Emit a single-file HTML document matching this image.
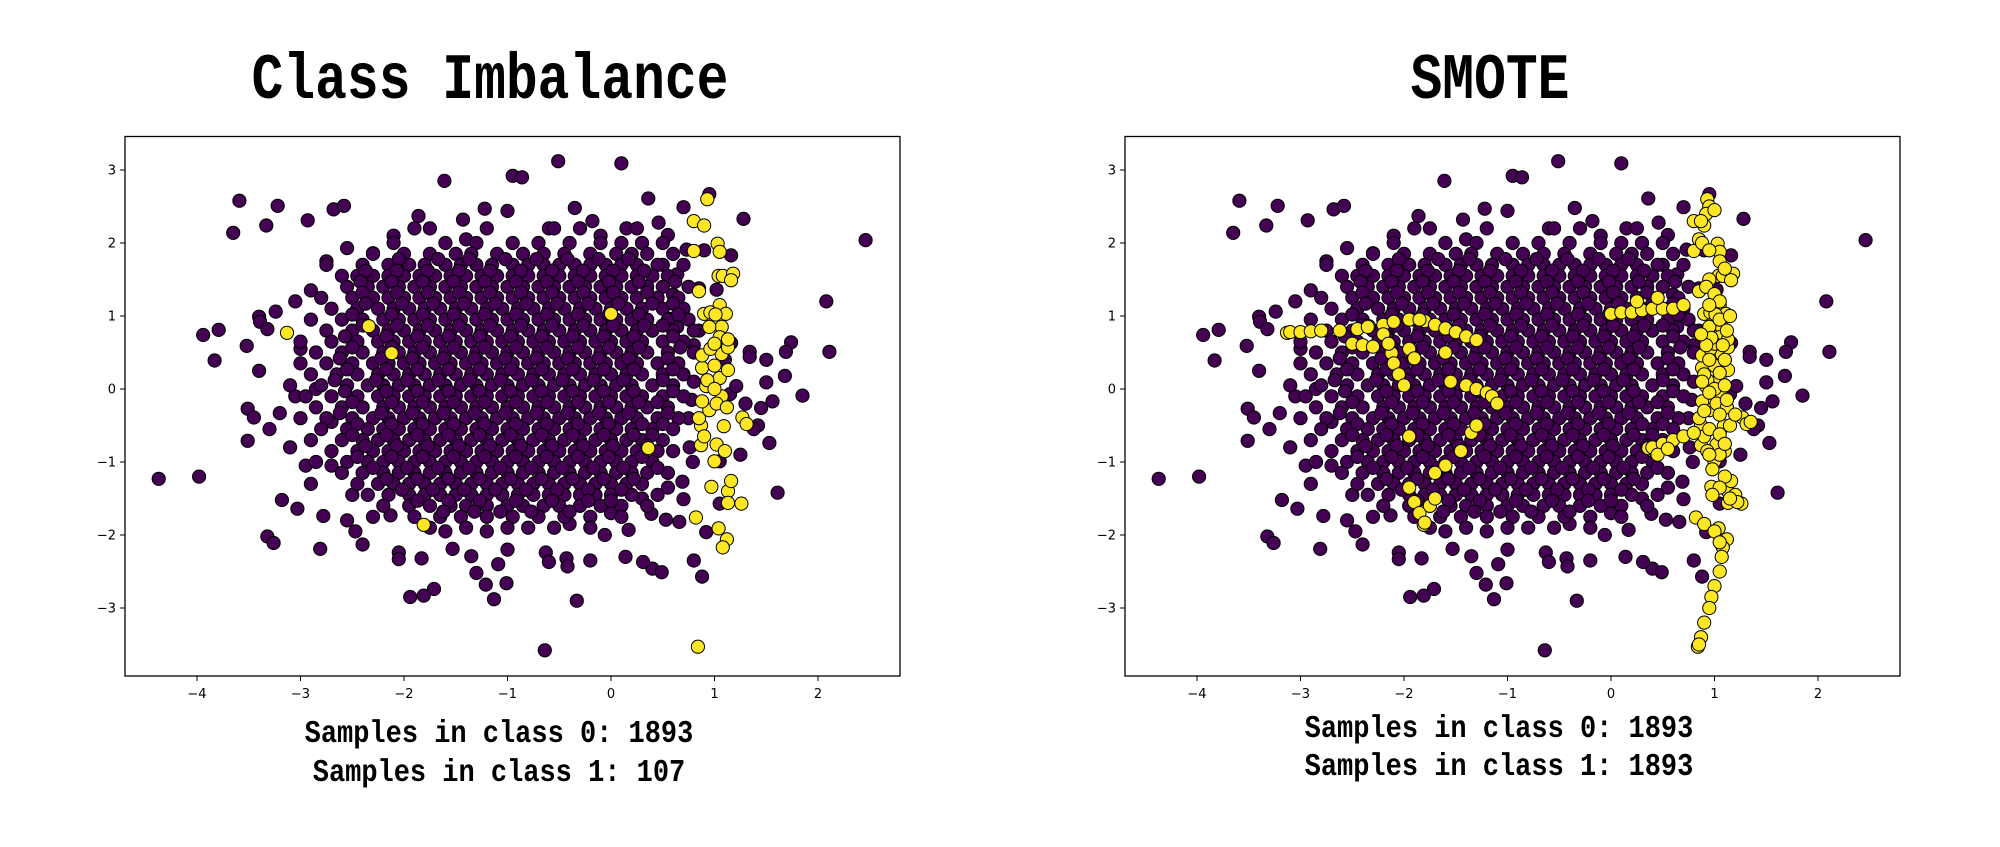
<!DOCTYPE html>
<html><head><meta charset="utf-8">
<style>
html,body{margin:0;padding:0;background:#fff;}
body{width:2000px;height:842px;overflow:hidden;}
svg text{font-family:"DejaVu Sans","Liberation Sans",sans-serif;}
.title{font-family:"Liberation Mono",monospace;font-weight:bold;font-size:53px;}
.sub{font-family:"Liberation Mono",monospace;font-weight:bold;font-size:27px;}
.tick{font-size:13px;fill:#000;}
</style></head>
<body>
<svg id="chart" width="2000" height="842" viewBox="0 0 2000 842" xmlns="http://www.w3.org/2000/svg">
  <g><text class="title" x="490" y="98" text-anchor="middle" transform="translate(0,98) scale(1,1.23) translate(0,-98)">Class Imbalance</text></g>
  <g><text class="title" x="1490" y="98" text-anchor="middle" transform="translate(0,98) scale(1,1.23) translate(0,-98)">SMOTE</text></g>
  <g id="panelL"></g>
  <g id="panelR"></g>
  <g>
    <text class="sub" x="499" y="742" text-anchor="middle" transform="translate(0,742) scale(1,1.18) translate(0,-742)">Samples in class 0: 1893</text>
    <text class="sub" x="499" y="781" text-anchor="middle" transform="translate(0,781) scale(1,1.18) translate(0,-781)">Samples in class 1: 107</text>
  </g>
  <g>
    <text class="sub" x="1499" y="737" text-anchor="middle" transform="translate(0,737) scale(1,1.18) translate(0,-737)">Samples in class 0: 1893</text>
    <text class="sub" x="1499" y="775" text-anchor="middle" transform="translate(0,775) scale(1,1.18) translate(0,-775)">Samples in class 1: 1893</text>
  </g>
</svg>
<script>
const xTicks = [-4,-3,-2,-1,0,1,2];
const yTicks = [-3,-2,-1,0,1,2,3];

const class0Outliers = [[-4.37,-1.23],[-3.98,-1.2],[-3.94,0.74],[-3.79,0.81],[-3.83,0.39],[-3.65,2.14],[-3.59,2.58],[-3.33,2.24],[-3.22,2.51],[-2.93,2.31],[-2.68,2.46],[-2.58,2.51],[-3.52,0.59],[-3.4,0.99],[-3.39,0.92],[-3.24,1.06],[-3.32,0.82],[-3.4,0.25],[-3.51,-0.27],[-3.45,-0.39],[-3.51,-0.71],[-3.2,-0.33],[-3.3,-0.55],[-3.18,-1.52],[-3.03,-1.64],[-3.32,-2.02],[-3.26,-2.11],[-2.9,-1.3],[-2.78,-1.74],[-2.81,-2.19],[-2.55,-1.8],[-2.4,-2.13],[-2.47,-1.95],[-2.55,1.93],[-2.3,1.86],[-1.61,2.85],[-1.86,2.37],[-1.43,2.32],[-1.22,2.47],[-1.0,2.44],[-0.95,2.92],[-0.86,2.9],[-0.51,3.12],[0.1,3.09],[-0.35,2.48],[-0.18,2.3],[0.36,2.61],[0.7,2.49],[0.46,2.28],[0.55,2.11],[0.95,2.67],[1.28,2.33],[2.46,2.04],[2.08,1.2],[2.11,0.51],[1.74,0.64],[1.69,0.51],[1.5,0.4],[1.34,0.51],[1.34,0.44],[1.85,-0.09],[1.68,0.18],[1.5,0.09],[1.56,-0.17],[1.45,-0.26],[1.42,-0.5],[1.38,-0.55],[1.53,-0.74],[1.61,-1.42],[1.16,1.83],[0.8,-2.35],[0.88,-2.57],[0.92,-1.96],[0.4,-2.46],[0.49,-2.51],[0.14,-2.3],[0.31,-2.37],[0.17,-1.93],[-0.06,-2.0],[-0.2,-2.35],[-0.33,-2.9],[-0.64,-3.58],[-0.63,-2.24],[-0.6,-2.37],[-0.43,-2.32],[-0.42,-2.43],[-1.01,-2.66],[-1.09,-2.4],[-1.13,-2.88],[-1.21,-2.68],[-1.3,-2.52],[-1.35,-2.29],[-1.71,-2.74],[-1.81,-2.83],[-1.94,-2.85],[-1.83,-2.32],[-2.05,-2.24],[-2.05,-2.33],[-2.13,-1.73],[-1.53,-2.19],[0.66,-1.82],[0.53,-1.79],[0.39,-1.71],[0.69,-1.27],[0.7,-1.51],[0.79,-1.0],[0.58,0.96],[0.6,1.29],[0.64,1.57],[0.85,1.38],[0.73,1.91],[1.02,1.36],[1.15,-0.07],[1.21,0.04],[1.1,0.4],[1.16,0.63],[1.05,-0.99],[1.05,-1.57],[0.64,0.85],[-3.0,0.55],[-3.05,-0.1],[-3.1,-0.8],[-2.95,-1.05],[-2.85,0.0],[-2.9,1.35],[-3.05,1.2],[-2.75,1.75],[-2.7,-0.45],[-2.7,-1.05],[-2.5,-1.45],[-2.3,-1.75],[-1.6,-1.95],[-1.2,-1.95],[-0.8,-1.9],[-0.4,-1.85],[0.0,-1.7],[0.3,-1.5],[0.55,-1.35],[0.8,0.6],[0.8,0.1],[0.75,-0.4],[1.3,-0.2],[1.25,-0.9],[-1.0,-2.2],[-0.1,2.1],[-0.6,2.2],[-1.4,2.05],[-2.1,2.1],[0.3,2.0],[0.5,1.7],[0.9,1.9],[0.85,0.8],[0.78,-0.15],[0.76,-0.8]];

const coreRows = [
 [2.2,[-1.9,-1.75,-1.2,-0.55,-0.3,0.15,0.25]],
 [2.0,[-2.1,-1.6,-1.3,-0.95,-0.7,-0.4,-0.1,0.1,0.3,0.5]],
 [1.85,[-2.3,-2.0,-1.75,-1.5,-1.35,-1.1,-0.85,-0.65,-0.45,-0.2,0.05,0.2,0.35,0.6]],
 [1.7,[-2.75,-2.4,-2.15,-1.95,-1.8,-1.6,-1.45,-1.3,-1.15,-0.95,-0.8,-0.65,-0.5,-0.35,-0.2,-0.05,0.1,0.25,0.45,0.7]],
 [1.55,[-2.6,-2.45,-2.3,-2.15,-2.0,-1.85,-1.7,-1.55,-1.4,-1.25,-1.1,-0.95,-0.8,-0.65,-0.5,-0.35,-0.2,-0.05,0.1,0.25,0.4,0.55]],
 [1.4,[-2.55,-2.35,-2.2,-2.05,-1.9,-1.75,-1.6,-1.45,-1.3,-1.15,-1.0,-0.85,-0.7,-0.55,-0.4,-0.25,-0.1,0.05,0.2,0.35,0.5,0.75]],
 [1.25,[-2.8,-2.5,-2.3,-2.15,-2.0,-1.85,-1.7,-1.55,-1.4,-1.25,-1.1,-0.95,-0.8,-0.65,-0.5,-0.35,-0.2,-0.05,0.1,0.25,0.45,0.65]],
 [1.1,[-2.7,-2.45,-2.25,-2.1,-1.95,-1.8,-1.65,-1.5,-1.35,-1.2,-1.05,-0.9,-0.75,-0.6,-0.45,-0.3,-0.15,0.0,0.15,0.3,0.5,0.7]],
 [0.95,[-2.9,-2.6,-2.4,-2.2,-2.05,-1.9,-1.75,-1.6,-1.45,-1.3,-1.15,-1.0,-0.85,-0.7,-0.55,-0.4,-0.25,-0.1,0.05,0.2,0.35,0.55,0.75]],
 [0.8,[-2.75,-2.5,-2.3,-2.15,-2.0,-1.85,-1.7,-1.55,-1.4,-1.25,-1.1,-0.95,-0.8,-0.65,-0.5,-0.35,-0.2,-0.05,0.1,0.25,0.4,0.6,0.8]],
 [0.65,[-3.0,-2.7,-2.45,-2.25,-2.1,-1.95,-1.8,-1.65,-1.5,-1.35,-1.2,-1.05,-0.9,-0.75,-0.6,-0.45,-0.3,-0.15,0.0,0.15,0.3,0.5,0.7]],
 [0.5,[-2.85,-2.6,-2.4,-2.2,-2.05,-1.9,-1.75,-1.6,-1.45,-1.3,-1.15,-1.0,-0.85,-0.7,-0.55,-0.4,-0.25,-0.1,0.05,0.2,0.35,0.55,0.8]],
 [0.35,[-3.0,-2.75,-2.5,-2.3,-2.15,-2.0,-1.85,-1.7,-1.55,-1.4,-1.25,-1.1,-0.95,-0.8,-0.65,-0.5,-0.35,-0.2,-0.05,0.1,0.25,0.45,0.65]],
 [0.2,[-2.9,-2.65,-2.45,-2.25,-2.1,-1.95,-1.8,-1.65,-1.5,-1.35,-1.2,-1.05,-0.9,-0.75,-0.6,-0.45,-0.3,-0.15,0.0,0.15,0.3,0.5,0.7]],
 [0.05,[-3.1,-2.8,-2.55,-2.35,-2.2,-2.05,-1.9,-1.75,-1.6,-1.45,-1.3,-1.15,-1.0,-0.85,-0.7,-0.55,-0.4,-0.25,-0.1,0.05,0.2,0.4,0.6]],
 [-0.1,[-2.95,-2.7,-2.45,-2.25,-2.1,-1.95,-1.8,-1.65,-1.5,-1.35,-1.2,-1.05,-0.9,-0.75,-0.6,-0.45,-0.3,-0.15,0.0,0.15,0.3,0.5,0.7]],
 [-0.25,[-2.85,-2.6,-2.4,-2.2,-2.05,-1.9,-1.75,-1.6,-1.45,-1.3,-1.15,-1.0,-0.85,-0.7,-0.55,-0.4,-0.25,-0.1,0.05,0.2,0.35,0.55]],
 [-0.4,[-3.0,-2.75,-2.5,-2.3,-2.15,-2.0,-1.85,-1.7,-1.55,-1.4,-1.25,-1.1,-0.95,-0.8,-0.65,-0.5,-0.35,-0.2,-0.05,0.1,0.25,0.45,0.65]],
 [-0.55,[-2.8,-2.55,-2.35,-2.2,-2.05,-1.9,-1.75,-1.6,-1.45,-1.3,-1.15,-1.0,-0.85,-0.7,-0.55,-0.4,-0.25,-0.1,0.05,0.2,0.4,0.6]],
 [-0.7,[-2.9,-2.6,-2.4,-2.25,-2.1,-1.95,-1.8,-1.65,-1.5,-1.35,-1.2,-1.05,-0.9,-0.75,-0.6,-0.45,-0.3,-0.15,0.0,0.15,0.3,0.5]],
 [-0.85,[-2.7,-2.45,-2.3,-2.15,-2.0,-1.85,-1.7,-1.55,-1.4,-1.25,-1.1,-0.95,-0.8,-0.65,-0.5,-0.35,-0.2,-0.05,0.1,0.25,0.45,0.6]],
 [-1.0,[-2.85,-2.55,-2.35,-2.2,-2.05,-1.9,-1.75,-1.6,-1.45,-1.3,-1.15,-1.0,-0.85,-0.7,-0.55,-0.4,-0.25,-0.1,0.05,0.2,0.4]],
 [-1.15,[-2.6,-2.4,-2.2,-2.05,-1.9,-1.75,-1.6,-1.45,-1.3,-1.15,-1.0,-0.85,-0.7,-0.55,-0.4,-0.25,-0.1,0.05,0.2,0.35,0.55]],
 [-1.3,[-2.45,-2.25,-2.1,-1.95,-1.8,-1.65,-1.5,-1.35,-1.2,-1.05,-0.9,-0.75,-0.6,-0.45,-0.3,-0.15,0.0,0.15,0.3]],
 [-1.45,[-2.35,-2.15,-1.95,-1.8,-1.65,-1.5,-1.35,-1.2,-1.05,-0.9,-0.75,-0.6,-0.45,-0.3,-0.15,0.0,0.2,0.45]],
 [-1.6,[-2.2,-1.95,-1.75,-1.55,-1.4,-1.2,-1.0,-0.85,-0.65,-0.5,-0.3,-0.1,0.1,0.35]],
 [-1.75,[-1.9,-1.65,-1.45,-1.2,-0.95,-0.7,-0.45,-0.2,0.1]],
 [-1.9,[-1.75,-1.4,-1.0,-0.55,-0.2]]
];

const coreRows2 = [
 [1.78,[-2.05,-1.67,-1.37,-1.02,-0.72,-0.42,-0.12,0.17]],
 [1.62,[-2.37,-2.07,-1.77,-1.47,-1.17,-0.87,-0.57,-0.27,0.02,0.32]],
 [1.47,[-2.42,-2.12,-1.82,-1.52,-1.22,-0.92,-0.62,-0.32,-0.02,0.27,0.62]],
 [1.32,[-2.4,-2.07,-1.77,-1.47,-1.17,-0.87,-0.57,-0.27,0.02,0.35]],
 [1.17,[-2.37,-2.02,-1.72,-1.42,-1.12,-0.82,-0.52,-0.22,0.07,0.4,0.6]],
 [1.02,[-2.5,-2.12,-1.82,-1.52,-1.22,-0.92,-0.62,-0.32,-0.02,0.27,0.65]],
 [0.87,[-2.4,-2.07,-1.77,-1.47,-1.17,-0.87,-0.57,-0.27,0.02,0.32,0.5]],
 [0.72,[-2.57,-2.17,-1.87,-1.57,-1.27,-0.97,-0.67,-0.37,-0.07,0.22,0.6]],
 [0.57,[-2.5,-2.12,-1.82,-1.52,-1.22,-0.92,-0.62,-0.32,-0.02,0.27,0.67]],
 [0.42,[-2.62,-2.22,-1.92,-1.62,-1.32,-1.02,-0.72,-0.42,-0.12,0.17,0.55]],
 [0.27,[-2.55,-2.17,-1.87,-1.57,-1.27,-0.97,-0.67,-0.37,-0.07,0.22,0.6]],
 [0.12,[-2.67,-2.27,-1.97,-1.67,-1.37,-1.07,-0.77,-0.47,-0.17,0.12,0.5]],
 [-0.03,[-2.57,-2.17,-1.87,-1.57,-1.27,-0.97,-0.67,-0.37,-0.07,0.22,0.6]],
 [-0.18,[-2.5,-2.12,-1.82,-1.52,-1.22,-0.92,-0.62,-0.32,-0.02,0.27,0.45]],
 [-0.33,[-2.62,-2.22,-1.92,-1.62,-1.32,-1.02,-0.72,-0.42,-0.12,0.17,0.55]],
 [-0.48,[-2.45,-2.12,-1.82,-1.52,-1.22,-0.92,-0.62,-0.32,-0.02,0.3,0.5]],
 [-0.63,[-2.5,-2.17,-1.87,-1.57,-1.27,-0.97,-0.67,-0.37,-0.07,0.22,0.4]],
 [-0.78,[-2.37,-2.07,-1.77,-1.47,-1.17,-0.87,-0.57,-0.27,0.02,0.35]],
 [-0.93,[-2.45,-2.12,-1.82,-1.52,-1.22,-0.92,-0.62,-0.32,-0.02,0.3]],
 [-1.08,[-2.3,-1.97,-1.67,-1.37,-1.07,-0.77,-0.47,-0.17,0.12,0.45]],
 [-1.23,[-2.17,-1.87,-1.57,-1.27,-0.97,-0.67,-0.37,-0.07,0.22]],
 [-1.38,[-2.02,-1.72,-1.42,-1.12,-0.82,-0.52,-0.22,0.1]],
 [-1.53,[-1.87,-1.57,-1.27,-0.92,-0.57,-0.22,0.0]],
 [-1.68,[-1.62,-1.32,-1.07,-0.77,-0.4]]
];

const class1Points = [[0.93,2.6],[0.8,2.3],[0.9,2.24],[0.8,1.89],[1.03,1.99],[1.05,1.88],[1.04,1.55],[1.08,1.55],[1.18,1.58],[1.16,1.49],[0.85,1.34],[1.05,1.15],[0.9,1.03],[0.96,1.05],[1.11,1.03],[1.01,1.02],[1.07,0.85],[0.0,1.03],[-2.34,0.86],[-3.13,0.77],[-2.12,0.49],[0.36,-0.81],[-1.81,-1.86],[0.84,-3.53],[0.82,-1.76],[1.04,-1.91],[1.12,-2.06],[1.08,-2.17],[0.97,-1.34],[1.13,-1.4],[1.16,-1.26],[1.13,-1.56],[1.26,-1.57],[1.0,-0.99],[0.87,-0.77],[1.02,-0.76],[0.87,-0.5],[1.09,-0.51],[1.27,-0.39],[1.31,-0.48],[0.85,-0.4],[0.95,-0.29],[0.88,-0.17],[1.07,-0.1],[0.92,0.04],[1.05,0.15],[1.13,0.26],[0.88,0.29],[1.0,0.32],[0.88,0.46],[1.07,0.48],[1.13,0.57],[0.96,0.55],[1.05,0.71],[1.13,0.68],[0.95,0.85],[1.0,0.62],[0.93,0.12],[1.02,-0.2],[0.9,-0.65],[1.1,-0.85],[1.0,0.0],[1.12,-0.25]];

const smotePoints = [[-3.1,0.78],[-3.0,0.78],[-2.9,0.79],[-2.8,0.8],[-2.62,0.8],[-2.45,0.82],[-2.35,0.85],[-2.2,0.88],[-2.1,0.92],[-1.95,0.95],[-1.8,0.93],[-1.7,0.88],[-1.6,0.83],[-1.5,0.78],[-1.4,0.72],[-1.3,0.67],[-2.5,0.62],[-2.4,0.6],[-2.3,0.58],[-2.2,0.75],[-2.15,0.62],[-2.1,0.35],[-2.05,0.2],[-1.95,0.55],[-1.9,0.42],[-2.0,0.05],[-1.85,0.95],[-1.55,0.1],[-1.4,0.05],[-1.3,0.0],[-1.2,-0.05],[-1.15,-0.1],[-1.1,-0.2],[-1.35,-0.6],[-1.3,-0.5],[-1.45,-0.85],[-1.6,-1.05],[-1.7,-1.15],[-1.95,-1.35],[-1.9,-1.55],[-1.85,-1.7],[-1.8,-1.83],[-1.75,-1.6],[-1.7,-1.5],[-1.95,-0.65],[-1.6,0.5],[0.1,1.05],[0.2,1.05],[0.3,1.08],[0.4,1.1],[0.5,1.1],[0.6,1.1],[0.7,1.15],[0.25,1.2],[0.45,1.25],[0.4,-0.8],[0.5,-0.75],[0.6,-0.7],[0.7,-0.65],[0.8,-0.6],[0.45,-0.9],[0.55,-0.82],[0.9,-1.85],[1.0,-1.95],[1.05,-2.1],[1.07,-2.3],[1.05,-2.5],[1.0,-2.7],[0.97,-2.85],[0.95,-3.0],[0.9,-3.2],[0.87,-3.4],[0.85,-3.5],[0.95,2.5],[0.92,2.4],[0.87,2.3],[1.0,2.45],[0.85,2.05],[0.88,2.0],[0.95,1.9],[1.05,1.75],[1.1,1.65],[0.95,1.5],[0.92,1.4],[1.0,1.3],[1.05,1.2],[0.95,1.15],[1.05,0.95],[0.97,0.7],[1.08,0.6],[0.92,0.6],[1.1,0.4],[0.95,0.4],[1.05,0.22],[0.9,0.2],[1.1,0.05],[0.95,-0.05],[1.12,-0.15],[0.9,-0.3],[1.05,-0.35],[1.15,-0.5],[0.95,-0.55],[1.05,-0.62],[0.93,-0.85],[1.05,-0.9],[0.98,-1.1],[1.1,-1.2],[1.05,-1.35],[1.2,-1.45],[1.22,-1.55],[1.15,-1.5],[0.98,-1.45],[1.35,-0.45],[1.2,-0.35],[1.1,-0.75],[0.95,-0.9],[0.88,0.1],[0.87,0.75],[1.15,1.0],[1.12,0.8]];

const OX = 611, OY = 389, UX = 103.5, UY = 73;
const AXL = 125, AXR = 900, AXT = 136.5, AXB = 676;
const NS = "http://www.w3.org/2000/svg";
function sx(v, off){ return OX + off + v*UX; }
function sy(v){ return OY - v*UY; }
function mk(tag, attrs, parent){ const e=document.createElementNS(NS,tag); for(const k in attrs) e.setAttribute(k,attrs[k]); parent.appendChild(e); return e; }

function drawPoint(g, p, off, color){
  return mk('circle',{cx:sx(p[0],off).toFixed(1),cy:sy(p[1]).toFixed(1),r:6.6,fill:color,stroke:'#000','stroke-width':1},g);
}

function drawPanel(id, off, withSmote){
  const g = document.getElementById(id);
  const frame = mk('rect',{x:AXL+off,y:AXT,width:AXR-AXL,height:AXB-AXT,fill:'#fff',stroke:'none'},g);
  
  
  const pts = mk('g',{},g);
  
  
  const all0 = class0Outliers.slice();
  coreRows.forEach(r => r[1].forEach(x => all0.push([x, r[0]])));
  coreRows2.forEach(r => r[1].forEach(x => all0.push([x, r[0]])));
  all0.forEach(p => {
    const c = drawPoint(pts, p, off, '#440154');
    
    
  });
  const pts1 = mk('g',{},g);
  
  
  class1Points.forEach(p => {
    const c = drawPoint(pts1, p, off, '#fde725');
    
    
  });
  if (withSmote) {
    smotePoints.forEach(p => {
      const c = drawPoint(pts1, p, off, '#fde725');
      
      
    });
  }
  const border = mk('rect',{x:AXL+off,y:AXT,width:AXR-AXL,height:AXB-AXT,fill:'none',stroke:'#000','stroke-width':1.3},g);
  
  
  const xa = mk('g',{},g);
  
  
  xTicks.forEach(t => {
    const x = sx(t,off);
    mk('line',{x1:x,x2:x,y1:AXB,y2:AXB+5,stroke:'#000','stroke-width':1},xa);
    const tx = mk('text',{x:x,y:AXB+22,'text-anchor':'middle',class:'tick'},xa);
    tx.textContent = t < 0 ? '\u2212'+Math.abs(t) : String(t);
    
    
  });
  const ya = mk('g',{},g);
  
  
  yTicks.forEach(t => {
    const y = sy(t);
    mk('line',{x1:AXL+off-5,x2:AXL+off,y1:y,y2:y,stroke:'#000','stroke-width':1},ya);
    const tx = mk('text',{x:AXL+off-9,y:y+4.5,'text-anchor':'end',class:'tick'},ya);
    tx.textContent = t < 0 ? '\u2212'+Math.abs(t) : String(t);
    
    
  });
}
drawPanel('panelL', 0, false);
drawPanel('panelR', 1000, true);
</script>
</body></html>
